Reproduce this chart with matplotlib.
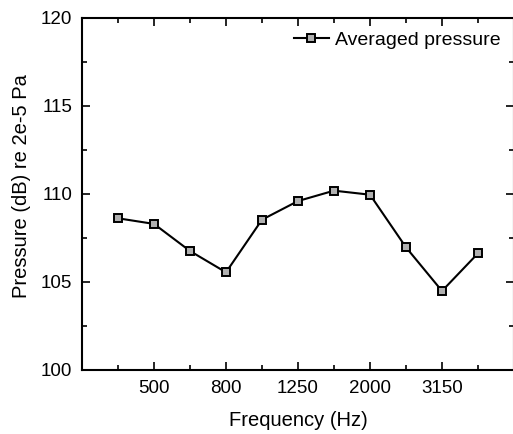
import matplotlib
matplotlib.use('Agg')
import matplotlib.pyplot as plt
import numpy as np

plt.rcParams['font.family'] = ['Liberation Sans', 'DejaVu Sans']

frequencies = ['400', '500', '630', '800', '1000', '1250', '1600', '2000', '2500', '3150', '4000']
avg_pressure = [108.62, 108.30, 106.76, 105.55, 108.54, 109.60, 110.19, 109.96, 106.97, 104.49, 106.63]

fig = plt.figure(figsize=(5.13, 4.34), dpi=100)
ax = fig.add_axes([82 / 513, 1 - 370 / 434, 432 / 513, 352 / 434])

pos = np.arange(1, len(frequencies) + 1)
ax.plot(pos, avg_pressure, color='black', lw=1.5, marker='s', ms=5.5,
        mfc='#b0b0b0', mec='black', mew=1.4, label='Averaged pressure')

ax.set_xlim(0, len(frequencies) + 1)
ax.set_ylim(100, 120)
ax.set_xticks(pos[1::2])
ax.set_xticklabels(frequencies[1::2])
ax.set_xticks(pos[0::2], minor=True)
ax.set_yticks([100, 105, 110, 115, 120])
ax.set_yticks([102.5, 107.5, 112.5, 117.5], minor=True)

ax.tick_params(which='both', direction='in', top=True, right=True, labelsize=13.5, width=1.2)
ax.tick_params(which='major', length=6, pad=7)
ax.tick_params(which='minor', length=3.5)
for s in ax.spines.values():
    s.set_linewidth(1.5)

ax.set_xlabel('Frequency (Hz)', fontsize=14.5, labelpad=10)
ax.set_ylabel('Pressure (dB) re 2e-5 Pa', fontsize=14.5)
ax.yaxis.set_label_coords(-0.118, 0.523)

ax.legend(loc='upper right', frameon=False, fontsize=14, handlelength=1.8,
          handletextpad=0.3, borderaxespad=0.3, bbox_to_anchor=(1.0, 1.0))

fig.savefig('out.png', dpi=100)
